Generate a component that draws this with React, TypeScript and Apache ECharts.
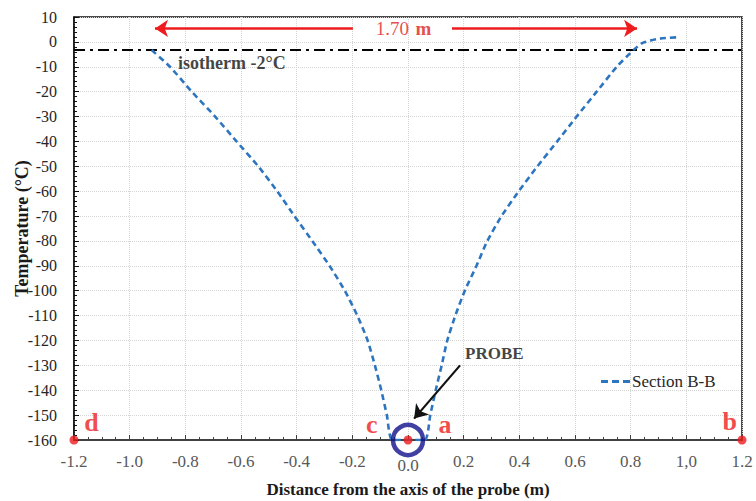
import { useEffect, useRef } from "react";
import * as echarts from "echarts";

// Curve "Section B-B": distance (m) vs temperature (°C)
const distX = [
  -0.921, -0.855, -0.777, -0.693, -0.616, -0.538, -0.47, -0.408, -0.344, -0.282,
  -0.227, -0.182, -0.145, -0.119, -0.096, -0.076, -0.056,
  0.06, 0.08, 0.0995, 0.121, 0.141, 0.17, 0.204, 0.246, 0.285, 0.336, 0.398,
  0.465, 0.536, 0.606, 0.678, 0.75, 0.81, 0.845, 0.905, 0.977,
];
const temps = [
  -3.3, -10, -20, -30, -40, -50, -60, -70, -80, -90,
  -100, -110, -120, -130, -140, -150, -160,
  -160, -150, -140, -130, -120, -110, -100, -90, -80, -70, -60,
  -50, -40, -30, -20, -10, -3.3, -0.3, 1.3, 1.9,
];

const isothermY = -3.3;
const isothermLabel = "isotherm -2°C";
const isothermLabelPos = [-0.826, -8.3];

const xTickLabels = ["-1.2", "-1.0", "-0.8", "-0.6", "-0.4", "-0.2", "0.0", "0.2", "0.4", "0.6", "0.8", "1,0", "1.2"];

// span annotation (1.70 m)
const spanY = 5.4;
const spanLeftArrowX = [-0.198, -0.909];
const spanRightArrowX = [0.158, 0.823];
const spanTextX = -0.016;

// probe annotation
const probeTextPos = [0.205, -125.4];
const probeArrowFrom = [0.187, -130.0];
const probeArrowTo = [0.022, -151.4];
const probeCenter = [0, -160];

// red points and letters
const redPointsX = [-1.2, 0, 1.2];
const redPointsY = [-160, -160, -160];
const letterNames = ["d", "c", "a", "b"];
const letterX = [-1.137, -0.13, 0.133, 1.156];
const letterY = [-152.9, -153.8, -153.8, -152.6];

const SERIF = "'Liberation Serif', 'Times New Roman', serif";
const DASH_ICON =
  "path://M0,0 L7,0 L7,3 L0,3 Z M11,0 L18,0 L18,3 L11,3 Z M22,0 L29,0 L29,3 L22,3 Z";

export default function App() {
  const ref = useRef<HTMLDivElement>(null);
  useEffect(() => {
    if (!ref.current) return;
    const chart = echarts.init(ref.current, undefined, { renderer: "svg" });
    const curveData = distX.map((x, i) => [x, temps[i]]);
    const option: any = {
      animation: false,
      backgroundColor: "#ffffff",
      grid: {
        left: 74,
        right: 14,
        top: 17,
        bottom: 61,
        outerBoundsMode: "none",
        show: true,
        borderColor: "#111",
        borderWidth: 1.5,
      },
      legend: {
        data: [{ name: "Section B-B", icon: DASH_ICON }],
        left: 596,
        top: 368,
        itemWidth: 29,
        itemHeight: 3,
        itemGap: 4,
        textStyle: { fontFamily: SERIF, fontSize: 17, color: "#262626", padding: [0, 0, 0, -3] },
      },
      xAxis: {
        type: "value",
        min: -1.2,
        max: 1.2,
        interval: 0.2,
        name: "Distance from the axis of the probe (m)",
        nameLocation: "middle",
        nameGap: 41,
        nameMoveOverlap: false,
        nameTextStyle: { fontFamily: SERIF, fontSize: 17, fontWeight: "bold", color: "#1a1a1a" },
        axisLine: { onZero: false, lineStyle: { color: "#404040", width: 2 } },
        axisTick: { show: true, inside: true, length: 5, lineStyle: { color: "#404040" } },
        minorTick: { show: true, splitNumber: 4, length: 3, lineStyle: { color: "#404040" } },
        splitLine: { show: true, lineStyle: { color: "#d4d4d4", type: "dotted", width: 1 } },
        axisLabel: {
          margin: 13,
          fontFamily: SERIF,
          fontSize: 17,
          color: "#595959",
          formatter: (v: number) => {
            const idx = Math.round((v + 1.2) / 0.2);
            const t = xTickLabels[idx] ?? "";
            return t === "0.0" ? "{z|" + t + "}" : t;
          },
          rich: { z: { padding: [4, 0, 0, 0], fontFamily: SERIF, fontSize: 17, color: "#595959" } },
        },
      },
      yAxis: {
        type: "value",
        min: -160,
        max: 10,
        interval: 10,
        name: "Temperature (°C)",
        nameLocation: "middle",
        nameGap: 43,
        nameMoveOverlap: false,
        nameRotate: 90,
        nameTextStyle: { fontFamily: SERIF, fontSize: 18, fontWeight: "bold", color: "#1a1a1a" },
        axisLine: { show: true, onZero: false, lineStyle: { color: "#111", width: 1.5 } },
        axisTick: { show: true, inside: true, length: 5, lineStyle: { color: "#111" } },
        minorTick: { show: true, splitNumber: 5, length: 3, lineStyle: { color: "#111" } },
        splitLine: { show: true, lineStyle: { color: "#d4d4d4", type: "dotted", width: 1 } },
        axisLabel: { margin: 17, fontFamily: SERIF, fontSize: 16, color: "#262626" },
      },
      series: [
        {
          name: "isotherm",
          type: "line",
          data: [[-1.2, isothermY], [1.2, isothermY]],
          symbol: "none",
          lineStyle: { color: "#000", width: 2, type: [11, 5, 3, 5] },
          silent: true,
          z: 3,
        },
        {
          name: "Section B-B",
          type: "line",
          data: curveData,
          symbol: "none",
          smooth: 0.2,
          lineStyle: { color: "#2e75c0", width: 2.6, type: [6, 4] },
          itemStyle: { color: "#2e75c0" },
          z: 4,
        },
        {
          name: "annotations",
          type: "line",
          data: [],
          symbol: "none",
          markLine: {
            silent: true,
            symbol: ["none", "arrow"],
            symbolSize: 13,
            label: { show: false },
            lineStyle: { color: "#ee1c1c", width: 2.5, type: "solid" },
            data: [
              [{ coord: [spanLeftArrowX[0], spanY] }, { coord: [spanLeftArrowX[1], spanY] }],
              [{ coord: [spanRightArrowX[0], spanY] }, { coord: [spanRightArrowX[1], spanY] }],
              [
                { coord: probeArrowFrom, lineStyle: { color: "#111", width: 2.2 } },
                { coord: probeArrowTo, lineStyle: { color: "#111", width: 2.2 } },
              ],
            ],
          },
        },
        {
          name: "texts",
          type: "scatter",
          symbolSize: 0,
          clip: false,
          silent: true,
          data: [
            {
              value: [spanTextX, spanY],
              label: {
                show: true,
                position: "inside",
                formatter: "{n|1.70}  {m|m}",
                rich: {
                  n: { fontFamily: SERIF, fontSize: 19, color: "#e02020" },
                  m: { fontFamily: SERIF, fontSize: 19, fontWeight: "bold", color: "#e02020" },
                },
              },
            },
            {
              value: isothermLabelPos,
              label: {
                show: true,
                position: "right",
                distance: 0,
                formatter: isothermLabel,
                fontFamily: SERIF,
                fontSize: 18,
                fontWeight: "bold",
                color: "#111",
              },
            },
            {
              value: probeTextPos,
              label: {
                show: true,
                position: "right",
                distance: 0,
                formatter: "PROBE",
                fontFamily: SERIF,
                fontSize: 17,
                fontWeight: "bold",
                color: "#111",
              },
            },
            ...letterNames.map((n, i) => ({
              value: [letterX[i], letterY[i]],
              label: {
                show: true,
                position: "inside",
                formatter: n,
                fontFamily: SERIF,
                fontSize: 26,
                fontWeight: "bold",
                color: "#ee1c1c",
              },
            })),
          ],
          z: 6,
        },
        {
          name: "probe",
          type: "scatter",
          clip: false,
          silent: true,
          symbol: "circle",
          symbolSize: 30,
          itemStyle: { color: "rgba(255,255,255,0)", borderColor: "#10108c", borderWidth: 4.5 },
          data: [probeCenter],
          z: 7,
        },
        {
          name: "points",
          type: "scatter",
          clip: false,
          silent: true,
          symbol: "circle",
          symbolSize: 9,
          itemStyle: { color: "#ee1c1c" },
          data: redPointsX.map((x, i) => [x, redPointsY[i]]),
          z: 8,
        },
      ],
    };
    chart.setOption(option);
    return () => chart.dispose();
  }, []);
  return (
    <div
      ref={ref}
      style={{ position: "fixed", left: 0, top: 0, width: 756, height: 501, background: "#fff" }}
    />
  );
}
